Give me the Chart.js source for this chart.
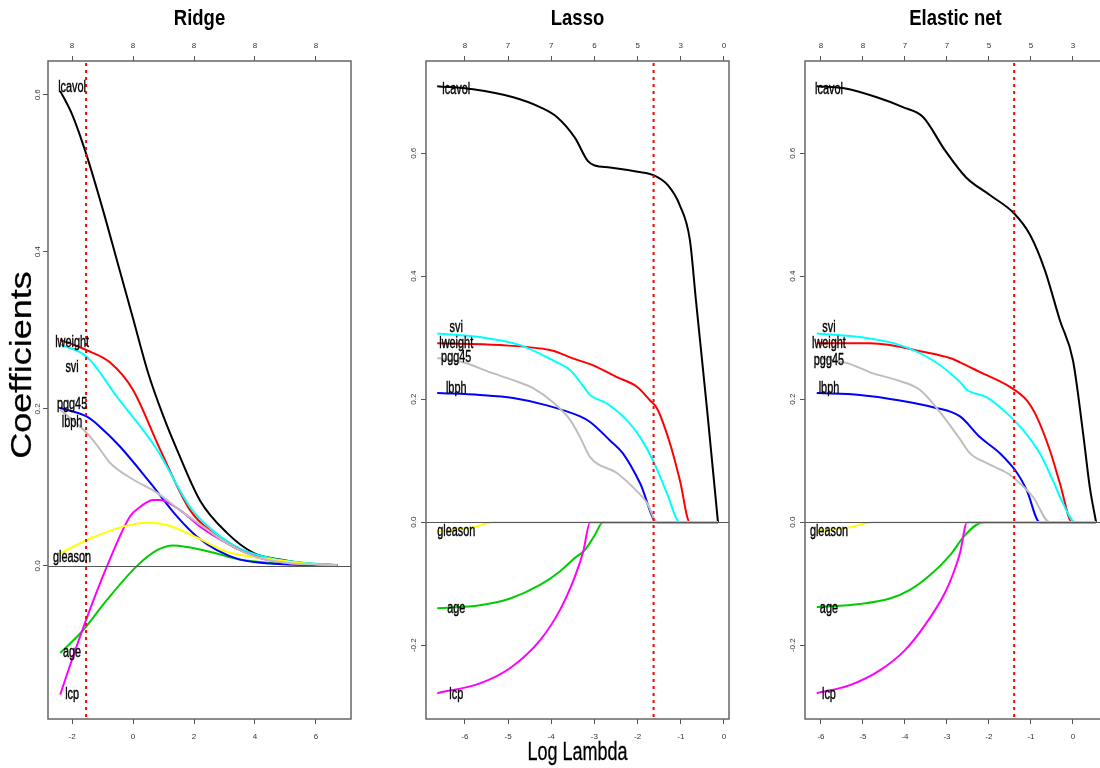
<!DOCTYPE html>
<html>
<head>
<meta charset="utf-8">
<title>Ridge / Lasso / Elastic net</title>
<script src="https://cdn.jsdelivr.net/npm/chart.js@4.4.0/dist/chart.umd.min.js"></script>
<style>
  html, body { margin: 0; padding: 0; background: #fff; overflow: hidden; width: 1100px; height: 768px; }
  canvas { position: absolute; top: 0; }
</style>
</head>
<body>
<canvas id="ridgeChart" width="370" height="768" style="left:0px"></canvas>
<canvas id="lassoChart" width="370" height="768" style="left:380px"></canvas>
<canvas id="enetChart" width="360" height="768" style="left:760px"></canvas>
<script>
// Variáveis (ordem das colunas, como no R) e cores da paleta padrão do R
const varNames = ['lcavol', 'lweight', 'age', 'lbph', 'svi', 'lcp', 'gleason', 'pgg45'];
const varColors = ['#000000', '#FF0000', '#00CD00', '#0000FF', '#00FFFF', '#FF00FF', '#FFFF00', '#BEBEBE'];

// ---- Ridge: [log lambda, coeficiente]
const ridgeLcavol = [[-2.39,0.605],[-2.0,0.575],[-1.54,0.525],[-1.0,0.455],[-0.5,0.385],[0,0.315],[0.5,0.245],[1.0,0.19],[1.44,0.148],[2.2,0.083],[3.08,0.042],[3.93,0.017],[4.82,0.008],[5.7,0.003],[6.72,0.001]];
const ridgeLweight = [[-2.39,0.288],[-1.54,0.275],[-0.75,0.259],[0,0.224],[0.89,0.148],[1.87,0.071],[2.62,0.042],[3.51,0.02],[4.59,0.008],[5.6,0.003],[6.7,0.001]];
const ridgeAge = [[-2.39,-0.111],[-1.64,-0.082],[-0.85,-0.043],[0.13,0],[0.79,0.02],[1.31,0.026],[1.77,0.024],[2.62,0.017],[3.51,0.008],[5.7,0.001],[6.7,0.0005]];
const ridgeLbph = [[-2.39,0.201],[-1.51,0.19],[-1.08,0.177],[-0.43,0.152],[0.56,0.106],[1.44,0.063],[2.1,0.037],[2.75,0.02],[3.51,0.008],[4.5,0.003],[6.7,0.0005]];
const ridgeSvi = [[-2.39,0.282],[-1.51,0.266],[-0.52,0.215],[0.79,0.148],[1.87,0.075],[2.62,0.045],[3.51,0.022],[4.59,0.009],[5.6,0.004],[6.7,0.001]];
const ridgeLcp = [[-2.39,-0.164],[-1.74,-0.09],[-0.85,0],[-0.1,0.063],[0.23,0.075],[0.66,0.084],[0.89,0.084],[1.54,0.071],[2.2,0.05],[3.08,0.029],[4.07,0.011],[5.0,0.004],[6.7,0.001]];
const ridgeGleason = [[-2.39,0.016],[-1.51,0.033],[-0.33,0.05],[0.46,0.055],[1.11,0.052],[2.1,0.036],[3.08,0.018],[4.59,0.008],[5.6,0.003],[6.7,0.001]];
const ridgePgg45 = [[-2.39,0.199],[-1.51,0.169],[-1.15,0.152],[-0.75,0.131],[0,0.11],[0.79,0.093],[1.54,0.071],[2.3,0.05],[3.08,0.029],[4.07,0.011],[5.0,0.004],[6.7,0.001]];

// ---- Lasso
const lassoLcavol = [[-6.64,0.709],[-5.81,0.704],[-4.88,0.691],[-4.26,0.675],[-3.87,0.659],[-3.45,0.625],[-3.15,0.587],[-2.99,0.58],[-2.64,0.577],[-2.0,0.57],[-1.62,0.564],[-1.3,0.548],[-1.02,0.515],[-0.79,0.459],[-0.65,0.361],[-0.39,0.182],[-0.14,0]];
const lassoLweight = [[-6.64,0.291],[-5.19,0.288],[-4.03,0.28],[-3.8,0.275],[-3.56,0.268],[-3.03,0.255],[-2.48,0.236],[-2.01,0.22],[-1.71,0.198],[-1.55,0.185],[-1.25,0.128],[-1.02,0.068],[-0.79,0],[-0.14,0]];
const lassoAge = [[-6.64,-0.14],[-5.65,-0.135],[-4.95,-0.124],[-4.26,-0.102],[-3.8,-0.08],[-3.45,-0.058],[-3.22,-0.045],[-3.0,-0.022],[-2.8,0],[-0.14,0]];
const lassoLbph = [[-6.64,0.21],[-5.65,0.207],[-4.88,0.202],[-4.1,0.19],[-3.33,0.172],[-3.1,0.163],[-2.64,0.133],[-2.34,0.112],[-1.94,0.063],[-1.55,0],[-0.14,0]];
const lassoSvi = [[-6.64,0.307],[-5.65,0.301],[-4.72,0.288],[-3.96,0.263],[-3.56,0.247],[-3.33,0.228],[-3.1,0.207],[-2.71,0.193],[-2.25,0.166],[-1.94,0.138],[-1.64,0.10],[-1.32,0.047],[-1.02,0],[-0.14,0]];
const lassoLcp = [[-6.64,-0.278],[-5.65,-0.262],[-4.95,-0.237],[-4.26,-0.192],[-3.8,-0.143],[-3.45,-0.088],[-3.26,-0.048],[-3.1,0],[-0.14,0]];
const lassoGleason = [[-6.64,-0.015],[-5.81,-0.008],[-5.35,0],[-0.14,0]];
const lassoPgg45 = [[-6.64,0.267],[-6.04,0.26],[-5.42,0.244],[-4.88,0.231],[-4.42,0.218],[-3.96,0.195],[-3.56,0.166],[-3.33,0.138],[-3.1,0.106],[-2.48,0.08],[-2.11,0.057],[-1.78,0.031],[-1.55,0],[-0.14,0]];

// ---- Elastic net
const enetLcavol = [[-6.1,0.709],[-5.48,0.706],[-4.67,0.691],[-4.05,0.675],[-3.57,0.659],[-3.05,0.605],[-2.55,0.561],[-1.98,0.532],[-1.4,0.502],[-1.02,0.467],[-0.67,0.41],[-0.31,0.328],[0,0.263],[0.24,0.145],[0.4,0.057],[0.55,0]];
const enetLweight = [[-6.1,0.291],[-4.83,0.291],[-3.48,0.276],[-2.93,0.267],[-2.69,0.26],[-2.21,0.244],[-1.5,0.22],[-1.1,0.198],[-0.86,0.171],[-0.55,0.117],[-0.31,0.063],[-0.02,0],[0.55,0]];
const enetAge = [[-6.1,-0.138],[-5.07,-0.133],[-4.36,-0.124],[-3.88,-0.11],[-3.4,-0.086],[-2.93,-0.054],[-2.57,-0.021],[-2.14,0],[0.55,0]];
const enetLbph = [[-6.1,0.21],[-5.07,0.207],[-4.12,0.198],[-3.33,0.187],[-2.69,0.172],[-2.21,0.138],[-1.74,0.112],[-1.33,0.08],[-1.1,0.052],[-0.79,0],[0.55,0]];
const enetSvi = [[-6.1,0.307],[-5.07,0.301],[-4.12,0.288],[-3.33,0.263],[-2.69,0.228],[-2.52,0.215],[-2.05,0.203],[-1.57,0.177],[-1.19,0.15],[-0.79,0.112],[-0.48,0.068],[-0.24,0.031],[0.05,0],[0.55,0]];
const enetLcp = [[-6.1,-0.278],[-5.31,-0.265],[-4.6,-0.241],[-4.0,-0.208],[-3.52,-0.167],[-3.05,-0.115],[-2.86,-0.085],[-2.69,-0.05],[-2.52,0],[0.55,0]];
const enetGleason = [[-6.1,-0.015],[-5.3,-0.008],[-4.76,0],[0.55,0]];
const enetPgg45 = [[-6.1,0.267],[-5.38,0.259],[-4.76,0.242],[-4.19,0.231],[-3.64,0.215],[-3.12,0.175],[-2.69,0.135],[-2.45,0.112],[-2.05,0.096],[-1.57,0.08],[-1.26,0.063],[-0.95,0.041],[-0.55,0],[0.55,0]];

// Rótulos dos eixos (ticks) e número de variáveis no topo
const ridgeXTicks = [-2, 0, 2, 4, 6];
const ridgeTopLabels = ['8', '8', '8', '8', '8'];
const ridgeYTicks = [0, 0.2, 0.4, 0.6];
const lassoXTicks = [-6, -5, -4, -3, -2, -1, 0];
const lassoTopLabels = ['8', '7', '7', '6', '5', '3', '0'];
const enetXTicks = [-6, -5, -4, -3, -2, -1, 0];
const enetTopLabels = ['8', '8', '7', '7', '5', '5', '3'];
const lassoYTicks = [-0.2, 0, 0.2, 0.4, 0.6];

// Posição (em valores) dos nomes das variáveis, na ordem de varNames
const ridgeLabelY = [0.609, 0.285, -0.110, 0.183, 0.253, -0.164, 0.011, 0.205];
const lassoLabelY = [0.704, 0.291, -0.140, 0.218, 0.317, -0.281, -0.016, 0.267];
const enetLabelY = [0.704, 0.291, -0.140, 0.218, 0.317, -0.281, -0.016, 0.263];

// lambda escolhido por validação cruzada (linha vermelha)
const ridgeCv = -1.54;
const lassoCv = -1.63;
const enetCv = -1.40;

// Texto "espremido", como na imagem original
function drawText(ctx, text, x, y, font, sx, sy, angle, baseline, stroke) {
    ctx.save();
    ctx.translate(x, y);
    if (angle) ctx.rotate(angle);
    ctx.scale(sx, sy);
    ctx.font = font;
    ctx.fillStyle = '#000';
    ctx.textAlign = 'center';
    ctx.textBaseline = baseline || 'middle';
    ctx.fillText(text, 0, 0);
    if (stroke) {
        ctx.strokeStyle = '#000';
        ctx.lineWidth = stroke;
        ctx.strokeText(text, 0, 0);
    }
    ctx.restore();
}

// Plugin com moldura, linha do zero, linha do CV, nomes das curvas e títulos
const extras = {
    id: 'extras',
    afterDatasetsDraw(chart, args, opts) {
        const { ctx, chartArea: a, scales } = chart;
        const x = scales.x, y = scales.y;
        ctx.save();

        // linha horizontal em zero
        const y0 = Math.round(y.getPixelForValue(0)) + 0.5;
        ctx.strokeStyle = '#555';
        ctx.lineWidth = 1.2;
        ctx.beginPath();
        ctx.moveTo(a.left, y0);
        ctx.lineTo(a.right, y0);
        ctx.stroke();

        // linha vermelha pontilhada
        const xc = x.getPixelForValue(opts.cv);
        ctx.strokeStyle = '#FF0000';
        ctx.lineWidth = 2;
        ctx.setLineDash([3, 4]);
        ctx.beginPath();
        ctx.moveTo(xc, a.top + 2);
        ctx.lineTo(xc, a.bottom);
        ctx.stroke();
        ctx.setLineDash([]);

        // moldura
        ctx.strokeStyle = '#666';
        ctx.lineWidth = 1.5;
        ctx.strokeRect(a.left, a.top, a.right - a.left, a.bottom - a.top);

        // nomes das curvas
        const lx = x.getPixelForValue(opts.labelX);
        varNames.forEach((name, i) => {
            drawText(ctx, name, lx, y.getPixelForValue(opts.labelY[i]), '16px "Liberation Sans", Arial, sans-serif', 0.68, 1, 0, 'middle', 0.4);
        });

        // título do painel
        drawText(ctx, opts.title, (a.left + a.right) / 2, 25, 'bold 22px "Liberation Sans", Arial, sans-serif', 0.84, 1, 0, 'alphabetic');

        if (opts.ylab) {
            drawText(ctx, opts.ylab, 23, 365, '36px "Liberation Sans", Arial, sans-serif', 1, 0.8, -Math.PI / 2, 'middle', 0.3);
        }
        if (opts.xlab) {
            drawText(ctx, opts.xlab, (a.left + a.right) / 2, 760, '25px "Liberation Sans", Arial, sans-serif', 0.72, 1, 0, 'alphabetic', 0.3);
        }
        ctx.restore();
    }
};

// Monta um painel
function makePanel(id, cfg) {
    const ctx = document.getElementById(id).getContext('2d');
    const tickFont = { family: '"Liberation Sans", Arial, sans-serif', size: 8 };
    const grid = { drawOnChartArea: false, drawTicks: true, tickLength: 5, color: '#555', lineWidth: 1 };

    const datasets = cfg.series.map((pts, i) => ({
        label: varNames[i],
        data: pts.map(p => ({ x: p[0], y: p[1] })),
        borderColor: varColors[i],
        borderWidth: 2,
        pointRadius: 0,
        fill: false,
        cubicInterpolationMode: 'monotone',
        order: -i
    }));

    new Chart(ctx, {
        type: 'line',
        data: { datasets: datasets },
        plugins: [extras],
        options: {
            responsive: false,
            animation: false,
            layout: { padding: { left: 0, right: cfg.padRight, top: 0, bottom: 0 } },
            scales: {
                x: {
                    type: 'linear', position: 'bottom', min: cfg.xMin, max: cfg.xMax,
                    afterBuildTicks: s => { s.ticks = cfg.xTicks.map(v => ({ value: v })); },
                    afterFit: s => { s.height = 49; },
                    grid: grid, border: { display: false },
                    ticks: { font: tickFont, color: '#333', padding: 8, autoSkip: false, maxRotation: 0, callback: v => String(v) }
                },
                x2: {
                    type: 'linear', position: 'top', min: cfg.xMin, max: cfg.xMax,
                    afterBuildTicks: s => { s.ticks = cfg.xTicks.map(v => ({ value: v })); },
                    afterFit: s => { s.height = 61; },
                    grid: grid, border: { display: false },
                    ticks: { font: tickFont, color: '#333', padding: 5, autoSkip: false, maxRotation: 0,
                             callback: (v, i) => cfg.topLabels[i] }
                },
                y: {
                    type: 'linear', position: 'left', min: cfg.yMin, max: cfg.yMax,
                    afterBuildTicks: s => { s.ticks = cfg.yTicks.map(v => ({ value: v })); },
                    afterFit: s => { s.width = cfg.yWidth; },
                    grid: grid, border: { display: false },
                    ticks: { font: tickFont, color: '#333', padding: 0, crossAlign: 'center', minRotation: 90, maxRotation: 90,
                             callback: v => v.toFixed(1) }
                }
            },
            plugins: {
                legend: { display: false },
                tooltip: { enabled: false },
                extras: { cv: cfg.cv, labelX: cfg.labelX, labelY: cfg.labelY, title: cfg.title, ylab: cfg.ylab, xlab: cfg.xlab }
            }
        }
    });
}

makePanel('ridgeChart', {
    title: 'Ridge', ylab: 'Coefficients',
    series: [ridgeLcavol, ridgeLweight, ridgeAge, ridgeLbph, ridgeSvi, ridgeLcp, ridgeGleason, ridgePgg45],
    xMin: -2.79, xMax: 7.15, yMin: -0.195, yMax: 0.643,
    xTicks: ridgeXTicks, topLabels: ridgeTopLabels, yTicks: ridgeYTicks,
    yWidth: 48, padRight: 19, cv: ridgeCv, labelX: -2.0, labelY: ridgeLabelY
});

makePanel('lassoChart', {
    title: 'Lasso', xlab: 'Log Lambda',
    series: [lassoLcavol, lassoLweight, lassoAge, lassoLbph, lassoSvi, lassoLcp, lassoGleason, lassoPgg45],
    xMin: -6.9, xMax: 0.116, yMin: -0.32, yMax: 0.75,
    xTicks: lassoXTicks, topLabels: lassoTopLabels, yTicks: lassoYTicks,
    yWidth: 46, padRight: 21, cv: lassoCv, labelX: -6.2, labelY: lassoLabelY
});

makePanel('enetChart', {
    title: 'Elastic net',
    series: [enetLcavol, enetLweight, enetAge, enetLbph, enetSvi, enetLcp, enetGleason, enetPgg45],
    xMin: -6.38, xMax: 0.786, yMin: -0.32, yMax: 0.75,
    xTicks: enetXTicks, topLabels: enetTopLabels, yTicks: lassoYTicks,
    yWidth: 45, padRight: 14, cv: enetCv, labelX: -5.81, labelY: enetLabelY
});
</script>
</body>
</html>
